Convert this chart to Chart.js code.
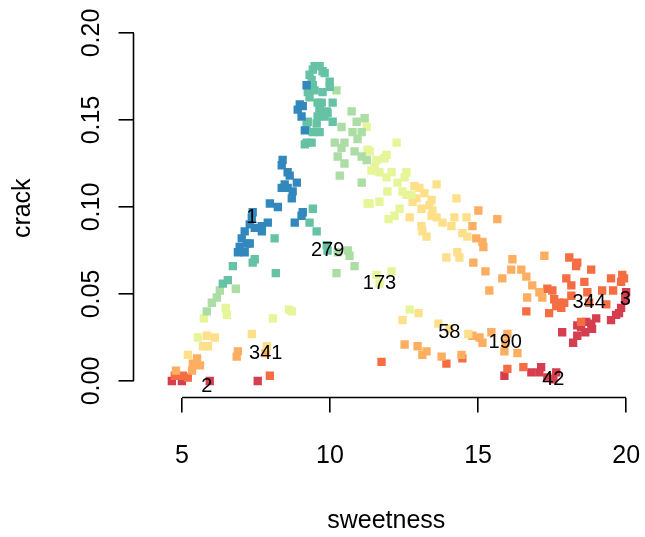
<!DOCTYPE html>
<html>
<head>
<meta charset="utf-8">
<script src="https://cdn.jsdelivr.net/npm/chart.js@4/dist/chart.umd.min.js"></script>
<style>
  html, body { margin: 0; padding: 0; background: #fff; }
  canvas { display: block; }
</style>
</head>
<body>
<canvas id="chart" width="645" height="537"></canvas>
<script>
// points grouped by colour (sweetness, crack)
const blue = [
  [9.21,0.170],[8.98,0.159],[8.91,0.156],[9.08,0.158],[9.04,0.152],[9.15,0.144],
  [8.40,0.127],[8.37,0.124],[8.57,0.120],[8.64,0.118],[8.88,0.114],[8.47,0.113],
  [8.37,0.111],[8.57,0.111],[8.74,0.109],[8.71,0.105],[7.97,0.102],[8.24,0.100],
  [9.08,0.097],[9.04,0.095],[8.81,0.091],[7.39,0.097],[7.90,0.091],[7.70,0.089],
  [7.46,0.088],[7.29,0.090],[7.12,0.086],[7.70,0.086],[7.02,0.082],[7.19,0.079],
  [7.29,0.079],[6.95,0.077],[7.12,0.074],[6.89,0.074],[7.36,0.094]
];
const teal = [
  [9.48,0.181],[9.65,0.181],[9.42,0.179],[9.75,0.178],[9.31,0.176],[9.82,0.177],
  [9.38,0.173],[9.99,0.172],[9.42,0.170],[9.99,0.169],[9.25,0.166],[9.48,0.167],
  [9.75,0.166],[9.31,0.163],[9.72,0.160],[10.09,0.160],[9.65,0.156],[9.89,0.155],
  [9.58,0.152],[9.82,0.152],[10.09,0.149],[9.25,0.149],[9.55,0.148],[9.21,0.147],
  [9.42,0.143],[9.65,0.143],[9.21,0.137],[9.38,0.137],[9.15,0.136],[9.65,0.157],
  [9.92,0.154],[9.58,0.160],
  [9.42,0.099],[9.31,0.091],[9.55,0.086],[9.89,0.078],[9.92,0.075],[8.13,0.082],
  [7.46,0.070],[7.39,0.068],[6.72,0.066],[8.17,0.062],[6.55,0.058],[6.38,0.056]
];
const lightGreen = [
  [10.22,0.167],[10.73,0.155],[10.90,0.149],[10.39,0.146],[11.17,0.151],[11.07,0.143],
  [10.76,0.143],[10.16,0.137],[10.49,0.137],[10.93,0.139],[10.39,0.134],[10.26,0.129],
  [10.83,0.132],[11.07,0.129],[11.24,0.127],[10.49,0.125],[10.33,0.118],[11.07,0.114],
  [10.60,0.075],[10.66,0.072],[10.26,0.074],[10.83,0.066],[10.22,0.062],
  [6.82,0.053],[6.28,0.052],[6.18,0.048],[6.01,0.045],[5.84,0.040]
];
const yellowGreen = [
  [11.24,0.146],[12.25,0.137],[11.34,0.132],[11.57,0.127],[11.51,0.123],[11.40,0.121],
  [11.91,0.130],[11.84,0.128],[11.67,0.120],[11.91,0.117],[12.08,0.120],[12.58,0.120],
  [12.52,0.117],[12.28,0.114],[11.94,0.109],[12.45,0.109],[12.58,0.107],[12.75,0.107],
  [11.67,0.103],[11.34,0.102],[12.35,0.099],[12.18,0.095],[11.98,0.093],[11.27,0.133],
  [11.27,0.102],[11.57,0.061],[11.67,0.056],[12.08,0.063],[12.69,0.041],
  [5.74,0.036],[6.48,0.042],[6.52,0.038],[8.71,0.040],[8.62,0.041],[8.07,0.036],[5.54,0.025]
];
const lightOrange = [
  [12.85,0.112],[13.02,0.111],[13.19,0.108],[12.92,0.105],[12.79,0.103],[13.43,0.104],
  [13.60,0.113],[13.36,0.101],[13.46,0.098],[13.43,0.095],[13.60,0.094],[13.09,0.099],
  [12.69,0.094],[13.80,0.091],[14.10,0.089],[14.20,0.094],[14.27,0.105],[13.09,0.089],
  [13.12,0.086],[13.26,0.083],[14.61,0.094],[14.47,0.085],[14.64,0.083],[13.93,0.071],
  [14.30,0.074],[14.37,0.071],[12.99,0.039],[12.45,0.035],[13.66,0.033],[14.03,0.030],
  [14.67,0.027],
  [5.84,0.026],[6.11,0.025],[5.71,0.020],[5.88,0.020],[5.20,0.015],[7.36,0.027],[7.87,0.020]
];
const orange = [
  [15.01,0.098],[15.65,0.093],[14.81,0.089],[14.94,0.082],[15.15,0.080],[15.18,0.077],
  [14.84,0.068],[15.25,0.063],[15.82,0.059],[16.16,0.070],[16.12,0.064],[16.46,0.064],
  [16.63,0.060],[17.24,0.072],[15.38,0.052],[16.83,0.055],[16.66,0.048],[17.07,0.051],
  [17.17,0.048],[14.81,0.026],[15.05,0.025],[15.15,0.022],[15.45,0.028],[15.99,0.027],
  [15.89,0.017],[16.33,0.016],[15.92,0.022],[12.52,0.021],[12.96,0.020],[13.26,0.017],
  [13.12,0.015],[13.77,0.014],[14.44,0.015],[7.83,0.016],
  [5.51,0.013],[5.37,0.010],[5.61,0.009],[6.89,0.017],[6.85,0.014],[4.80,0.006],[5.34,0.006]
];
const orangeRed = [
  [18.08,0.071],[18.35,0.068],[18.31,0.066],[18.82,0.064],[17.98,0.059],[18.15,0.055],
  [18.15,0.049],[18.59,0.057],[18.69,0.051],[17.34,0.053],[17.51,0.052],[17.57,0.047],
  [17.74,0.045],[17.91,0.045],[17.81,0.042],[17.64,0.043],[17.40,0.039],[16.63,0.040],
  [19.49,0.059],[19.87,0.061],[19.93,0.059],[19.83,0.057],[19.19,0.052],[19.56,0.052],
  [19.33,0.044],[18.48,0.034],[18.75,0.045],[14.47,0.013],[15.99,0.007],[16.53,0.008],
  [11.74,0.011],[13.93,0.010],
  [4.76,0.003],[5.03,0.003],[5.20,0.002],[7.97,0.003]
];
const red = [
  [20.00,0.051],[19.97,0.047],[19.83,0.042],[19.66,0.038],[19.49,0.035],[19.76,0.039],
  [18.99,0.036],[18.82,0.033],[18.65,0.034],[18.48,0.031],[18.35,0.032],[18.85,0.030],
  [18.62,0.028],[18.35,0.026],[18.21,0.022],[17.84,0.028],[15.89,0.003],[16.80,0.005],
  [17.13,0.008],[17.07,0.005],[17.34,0.002],[17.64,0.005],[17.54,0.001],
  [4.66,0.000],[5.00,0.000],[5.94,0.000],[7.56,0.000]
];
const groupColors = ["#3288BD", "#66C2A5", "#ABDDA4", "#E6F598", "#FEE08B", "#FDAE61", "#F46D43", "#D53E4F"];
const groups = [blue, teal, lightGreen, yellowGreen, lightOrange, orange, orangeRed, red];

// point ids written over the plot
const labelText = ["1", "2", "3", "42", "58", "173", "190", "279", "341", "344"];
const labelX = [7.36, 5.84, 19.97, 17.54, 14.03, 11.67, 15.92, 9.92, 7.83, 18.75];
const labelY = [0.094, -0.003, 0.047, 0.001, 0.028, 0.056, 0.022, 0.075, 0.016, 0.045];

const xTicks = [5, 10, 15, 20];
const yTicks = [0, 0.05, 0.1, 0.15, 0.2];

const FONT = "'Liberation Sans', Arial, Helvetica, sans-serif";

// R style axis lines: only from first to last tick
const axisLines = {
  id: "axisLines",
  afterDraw(chart) {
    const { ctx, chartArea, scales } = chart;
    ctx.save();
    ctx.strokeStyle = "#000";
    ctx.lineWidth = 1.6;
    ctx.beginPath();
    ctx.moveTo(scales.x.getPixelForValue(xTicks[0]), chartArea.bottom);
    ctx.lineTo(scales.x.getPixelForValue(xTicks[xTicks.length - 1]), chartArea.bottom);
    ctx.moveTo(chartArea.left, scales.y.getPixelForValue(yTicks[0]));
    ctx.lineTo(chartArea.left, scales.y.getPixelForValue(yTicks[yTicks.length - 1]));
    ctx.stroke();
    ctx.restore();
  }
};

const pointLabels = {
  id: "pointLabels",
  afterDatasetsDraw(chart) {
    const { ctx, scales } = chart;
    ctx.save();
    ctx.fillStyle = "#000";
    ctx.font = "20px " + FONT;
    ctx.textAlign = "center";
    ctx.textBaseline = "middle";
    labelText.forEach((t, i) => {
      ctx.fillText(t, scales.x.getPixelForValue(labelX[i]), scales.y.getPixelForValue(labelY[i]));
    });
    ctx.restore();
  }
};

new Chart(document.getElementById("chart"), {
  type: "scatter",
  data: {
    datasets: groups.map((g, i) => ({
      data: g.map(p => ({ x: p[0], y: p[1] })),
      backgroundColor: groupColors[i],
      borderWidth: 0,
      pointStyle: "rect",
      pointRadius: 5.9
    }))
  },
  options: {
    responsive: false,
    animation: false,
    layout: { padding: { top: 19, right: 0, bottom: 0, left: 0 } },
    plugins: { legend: { display: false }, tooltip: { enabled: false } },
    scales: {
      x: {
        type: "linear",
        min: 3.365,
        max: 20.438,
        afterBuildTicks: s => { s.ticks = xTicks.map(v => ({ value: v })); },
        afterFit: s => { s.height = 537 - 397.5; s.paddingLeft = 0; s.paddingRight = 0; },
        border: { display: false },
        grid: { drawOnChartArea: false, drawTicks: true, tickLength: 15, color: "#000", lineWidth: 1.6 },
        ticks: { color: "#000", padding: 29, maxRotation: 0, font: { family: FONT, size: 25 } },
        title: { display: true, text: "sweetness", color: "#000", padding: { top: 0, bottom: 1 }, font: { family: FONT, size: 25 } }
      },
      y: {
        type: "linear",
        min: -0.00948,
        max: 0.20805,
        afterBuildTicks: s => { s.ticks = yTicks.map(v => ({ value: v })); },
        afterFit: s => { s.width = 133.5; s.paddingTop = 0; s.paddingBottom = 0; },
        border: { display: false },
        grid: { drawOnChartArea: false, drawTicks: true, tickLength: 15, color: "#000", lineWidth: 1.6 },
        ticks: {
          color: "#000", padding: 2, minRotation: 90, maxRotation: 90, crossAlign: "center",
          font: { family: FONT, size: 25 },
          callback: v => v.toFixed(2)
        },
        title: { display: true, text: "crack", color: "#000", padding: { top: 8, bottom: 0 }, font: { family: FONT, size: 25 } }
      }
    }
  },
  plugins: [axisLines, pointLabels]
});
</script>
</body>
</html>
